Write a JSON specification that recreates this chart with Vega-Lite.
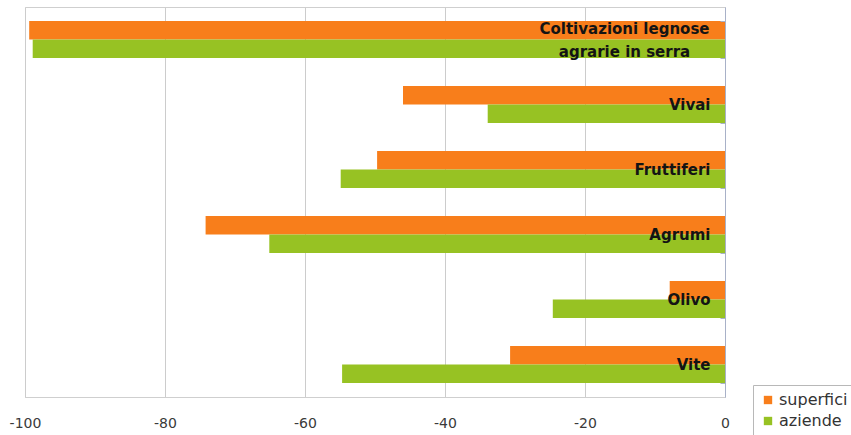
{
  "$schema": "https://vega.github.io/schema/vega-lite/v6.json",
  "width": 700,
  "height": 390,
  "autosize": {"type": "none"},
  "padding": {"left": 25, "top": 7, "right": 126, "bottom": 38},
  "background": "white",
  "config": {
    "font": "DejaVu Sans",
    "view": {"stroke": "#cfcfcf", "strokeWidth": 1}
  },
  "data": {
    "values": [
      {"coltura": "Coltivazioni legnose agrarie in serra", "serie": "superfici", "variazione": -99.4},
      {"coltura": "Coltivazioni legnose agrarie in serra", "serie": "aziende", "variazione": -98.9},
      {"coltura": "Vivai", "serie": "superfici", "variazione": -46.0},
      {"coltura": "Vivai", "serie": "aziende", "variazione": -33.9},
      {"coltura": "Fruttiferi", "serie": "superfici", "variazione": -49.7},
      {"coltura": "Fruttiferi", "serie": "aziende", "variazione": -54.9},
      {"coltura": "Agrumi", "serie": "superfici", "variazione": -74.2},
      {"coltura": "Agrumi", "serie": "aziende", "variazione": -65.1},
      {"coltura": "Olivo", "serie": "superfici", "variazione": -7.9},
      {"coltura": "Olivo", "serie": "aziende", "variazione": -24.6},
      {"coltura": "Vite", "serie": "superfici", "variazione": -30.7},
      {"coltura": "Vite", "serie": "aziende", "variazione": -54.7}
    ]
  },
  "mark": {"type": "bar"},
  "encoding": {
    "y": {
      "field": "coltura",
      "type": "nominal",
      "sort": ["Coltivazioni legnose agrarie in serra", "Vivai", "Fruttiferi", "Agrumi", "Olivo", "Vite"],
      "scale": {"paddingInner": 0.43, "paddingOuter": 0.215},
      "axis": {
        "orient": "right",
        "title": null,
        "zindex": 1,
        "domainColor": "#a8b1c8",
        "tickColor": "#a8b1c8",
        "tickSize": -5,
        "tickBand": "extent",
        "labelFont": "DejaVu Sans",
        "labelFontSize": 15,
        "labelFontWeight": "bold",
        "labelColor": "#141414",
        "labelLimit": 0,
        "labelLineHeight": 23,
        "labelExpr": "datum.value == 'Coltivazioni legnose agrarie in serra' ? ['Coltivazioni legnose', 'agrarie in serra'] : datum.value",
        "labelAlign": {"condition": {"test": "datum.value == 'Coltivazioni legnose agrarie in serra'", "value": "center"}, "value": "right"},
        "labelPadding": {"condition": {"test": "datum.value == 'Coltivazioni legnose agrarie in serra'", "value": -96}, "value": -10},
        "labelOffset": {"condition": {"test": "datum.value == 'Coltivazioni legnose agrarie in serra'", "value": -11}, "value": 0}
      }
    },
    "yOffset": {"field": "serie", "type": "nominal", "sort": ["superfici", "aziende"]},
    "x": {
      "field": "variazione",
      "type": "quantitative",
      "scale": {"domain": [-100, 0], "nice": false},
      "axis": {
        "title": null,
        "values": [-100, -80, -60, -40, -20, 0],
        "labelExpr": "'' + datum.value",
        "grid": true,
        "gridColor": "#cccccc",
        "domainColor": "#cfcfcf",
        "ticks": false,
        "labelFontSize": 14,
        "labelColor": "#3a3a3a",
        "labelPadding": 19,
        "labelFlush": false
      }
    },
    "color": {
      "field": "serie",
      "type": "nominal",
      "scale": {"domain": ["superfici", "aziende"], "range": ["#F87E1B", "#97C223"]},
      "legend": {
        "orient": "none",
        "legendX": 728,
        "legendY": 378,
        "title": null,
        "strokeColor": "#b8b8b8",
        "fillColor": "white",
        "padding": 7,
        "symbolType": "square",
        "symbolSize": 70,
        "symbolStrokeWidth": 0,
        "labelFontSize": 16,
        "labelColor": "#333333",
        "labelOffset": 3,
        "rowPadding": 5
      }
    }
  }
}
